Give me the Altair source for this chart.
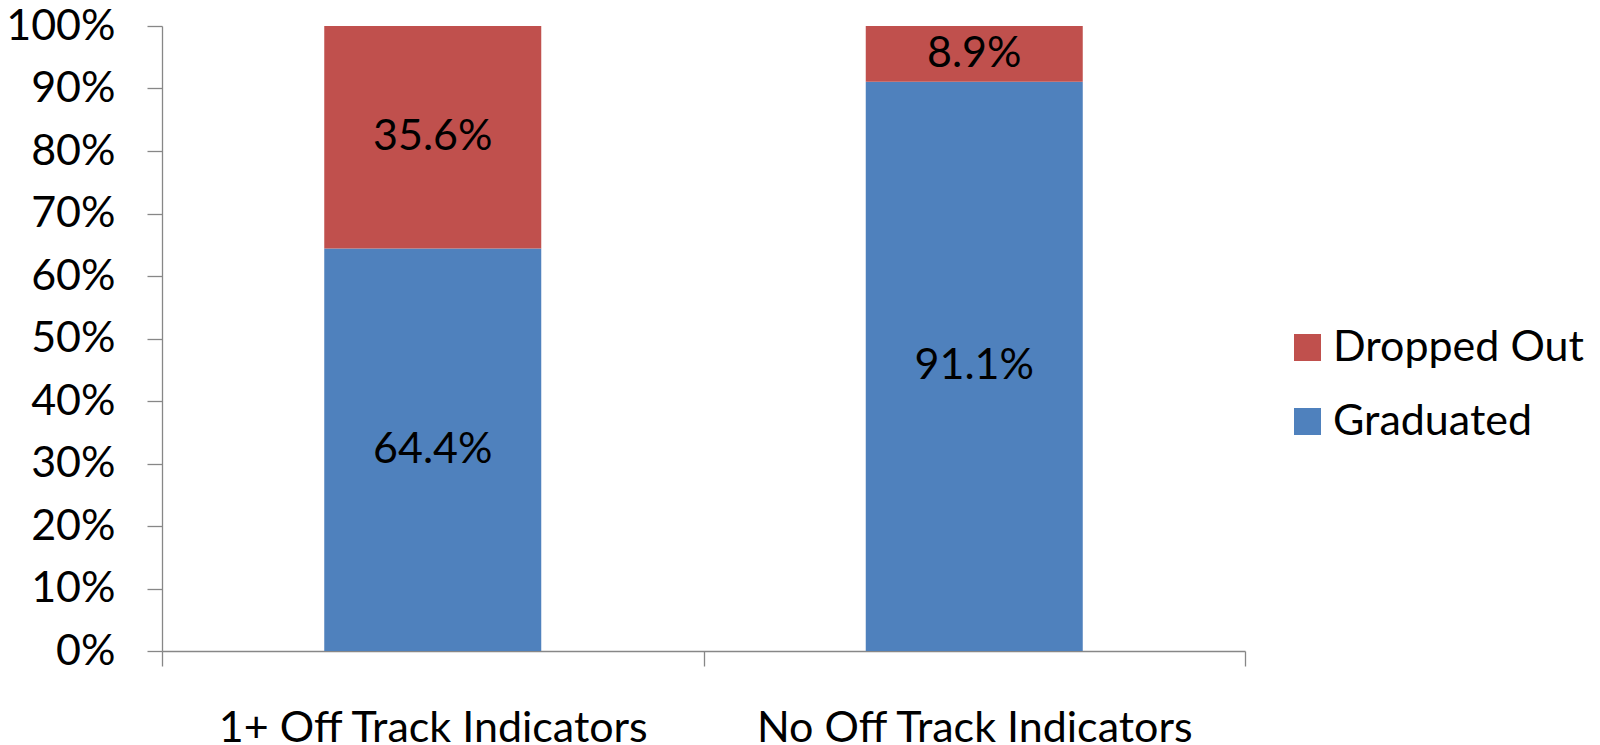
import altair as alt
import pandas as pd

categories = ["1+ Off Track Indicators", "No Off Track Indicators"]
series = ["Dropped Out", "Graduated"]
graduated = [64.4, 91.1]
dropped_out = [35.6, 8.9]
colors = ["#C0504D", "#4F81BD"]
y_ticks = [0, 0.1, 0.2, 0.3, 0.4, 0.5, 0.6, 0.7, 0.8, 0.9, 1.0]

rows = []
for i, c in enumerate(categories):
    rows.append({"category": c, "series": "Graduated", "value": graduated[i] / 100, "order": 0})
    rows.append({"category": c, "series": "Dropped Out", "value": dropped_out[i] / 100, "order": 1})
df = pd.DataFrame(rows)

FONT = "Lato"
FS = 43
AXIS_GRAY = "#878787"

base = alt.Chart(df)

x_scale = alt.Scale(paddingInner=0, paddingOuter=0)
x_enc = alt.X(
    "category:N",
    sort=categories,
    scale=x_scale,
    axis=alt.Axis(
        title=None, labelAngle=0, tickBand="extent", tickSize=15,
        labelPadding=75, labelBaseline="alphabetic", labelFontSize=FS,
        labelFont=FONT, labelColor="black", domainColor=AXIS_GRAY,
        tickColor=AXIS_GRAY, domainWidth=1.3, tickWidth=1.3, labelLimit=0,
    ),
)

y_scale = alt.Scale(domain=[0, 1], nice=False)

bars = base.mark_bar(size=217).encode(
    x=x_enc,
    y=alt.Y(
        "value:Q", stack="zero", scale=y_scale,
        axis=alt.Axis(
            values=y_ticks, format=".0%", title=None, tickSize=15,
            labelPadding=32, labelFontSize=FS, labelFont=FONT,
            labelColor="black", grid=False, domainColor=AXIS_GRAY,
            tickColor=AXIS_GRAY, domainWidth=1.3, tickWidth=1.3,
        ),
    ),
    color=alt.Color(
        "series:N",
        scale=alt.Scale(domain=series, range=colors),
        legend=alt.Legend(
            title=None, orient="none", legendX=1124, legendY=300,
            symbolType="square", symbolSize=729, symbolStrokeWidth=0,
            labelFontSize=FS, labelFont=FONT, labelColor="black",
            rowPadding=30, labelOffset=4, padding=0, labelLimit=0,
        ),
    ),
    order=alt.Order("order:Q"),
)

labels = base.transform_stack(
    stack="value", groupby=["category"], as_=["y0", "y1"],
    sort=[alt.SortField("order")],
).transform_calculate(
    mid="(datum.y0 + datum.y1) / 2"
).mark_text(font=FONT, fontSize=FS, color="black", baseline="middle").encode(
    x=alt.X("category:N", sort=categories, scale=x_scale),
    y=alt.Y("mid:Q", scale=y_scale),
    text=alt.Text("value:Q", format=".1%"),
)

chart = alt.layer(bars, labels).properties(
    width=1083, height=625,
    autosize=alt.AutoSizeParams(type="none"),
    padding={"left": 154, "top": 18, "right": 347, "bottom": 96},
).configure_view(stroke=None)

chart.save("out.html", embed_options={"renderer": "svg", "actions": False})
